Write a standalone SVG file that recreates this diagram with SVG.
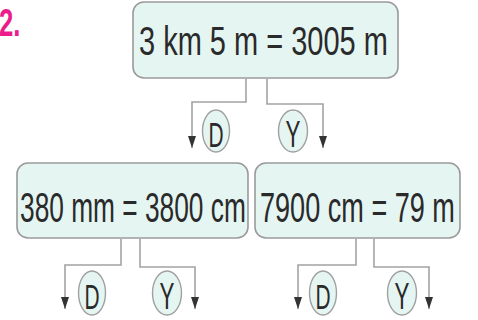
<svg xmlns="http://www.w3.org/2000/svg" width="478" height="320" viewBox="0 0 478 320">
<defs>
<style>
.box{fill:#e5f5f2;stroke:#9a9a9a;stroke-width:1.6}
.el{fill:#e5f5f2;stroke:#a0a0a0;stroke-width:1.4}
.t{font-family:"Liberation Sans","DejaVu Sans",sans-serif;fill:#2a2a2a}
.l{font-family:"Liberation Sans","DejaVu Sans",sans-serif;fill:#2a2a2a;font-size:36px;text-anchor:middle}
.ln{fill:none;stroke:#a3a3a3;stroke-width:1.6}
</style>
<marker id="ah" viewBox="0 0 12 8" refX="12" refY="4" markerWidth="12" markerHeight="8" markerUnits="userSpaceOnUse" orient="auto">
<path d="M0,0 L12,4 L0,8 Z" fill="#333"/>
</marker>
</defs>
<rect width="478" height="320" fill="#ffffff"/>
<text class="t" transform="translate(-1,36) scale(0.66,1)" font-size="39" font-weight="bold" style="fill:#ec1c8c">2.</text>

<g id="connectors">
<path class="ln" d="M246,79 V102 H192 V148" marker-end="url(#ah)"/>
<path class="ln" d="M267,79 V104 H323 V148" marker-end="url(#ah)"/>
<path class="ln" d="M121,239 V265 H65 V309" marker-end="url(#ah)"/>
<path class="ln" d="M140,239 V267 H195 V309" marker-end="url(#ah)"/>
<path class="ln" d="M356,239 V265 H298 V309" marker-end="url(#ah)"/>
<path class="ln" d="M374,239 V267 H429 V309" marker-end="url(#ah)"/>
</g>

<g id="top">
<rect class="box" x="133" y="2" width="265" height="76" rx="11"/>
<text class="t" transform="translate(139,55) scale(0.707,1)" font-size="41">3 km 5 m = 3005 m</text>
</g>
<g id="top-d">
<ellipse class="el" cx="216" cy="131" rx="13.5" ry="21"/>
<text class="l" transform="translate(216,147) scale(0.58,1)">D</text>
</g>
<g id="top-y">
<ellipse class="el" cx="293" cy="131" rx="14.5" ry="21"/>
<text class="l" transform="translate(293,147) scale(0.62,1)">Y</text>
</g>

<g id="left">
<rect class="box" x="17" y="163" width="231" height="75" rx="11"/>
<text class="t" transform="translate(20,222) scale(0.612,1)" font-size="43">380 mm = 3800 cm</text>
</g>
<g id="left-d">
<ellipse class="el" cx="92" cy="293" rx="13.5" ry="22"/>
<text class="l" transform="translate(92,309) scale(0.58,1)">D</text>
</g>
<g id="left-y">
<ellipse class="el" cx="167" cy="293" rx="14.5" ry="22"/>
<text class="l" transform="translate(167,309) scale(0.62,1)">Y</text>
</g>

<g id="right">
<rect class="box" x="255" y="163" width="205" height="75" rx="11"/>
<text class="t" transform="translate(260,222) scale(0.63,1)" font-size="43">7900 cm = 79 m</text>
</g>
<g id="right-d">
<ellipse class="el" cx="323" cy="293" rx="13.5" ry="22"/>
<text class="l" transform="translate(323,309) scale(0.58,1)">D</text>
</g>
<g id="right-y">
<ellipse class="el" cx="402" cy="293" rx="14.5" ry="22"/>
<text class="l" transform="translate(402,309) scale(0.62,1)">Y</text>
</g>
</svg>
